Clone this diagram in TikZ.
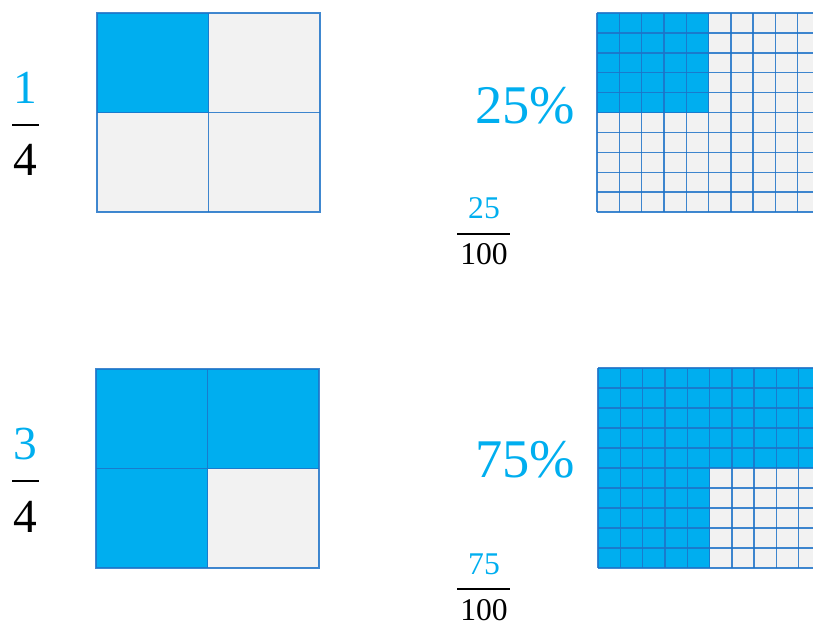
\documentclass[tikz,border=0pt]{standalone}
\usepackage{fontspec}
\setmainfont{Liberation Serif}
\definecolor{fillblue}{RGB}{0,174,239}
\definecolor{cellgray}{RGB}{242,242,242}
\definecolor{gridblue}{RGB}{30,115,200}
\tikzset{
  shaded/.style={fill=fillblue},
  blank/.style={fill=cellgray},
  gridline/.style={draw=gridblue, line width=0.8pt, draw opacity=0.85},
  num/.style={text=fillblue, inner sep=0pt},
  den/.style={text=black, inner sep=0pt},
  fracbar/.style={line width=1.2pt}
}
\begin{document}
\begin{tikzpicture}[x=0.02cm, y=-0.02cm,
		bigfont/.style={font=\fontsize{27}{30}\selectfont},
		pctfont/.style={font=\fontsize{31}{34}\selectfont},
		smallfont/.style={font=\fontsize{18}{20}\selectfont}]
		\useasboundingbox (0,0) rectangle (813,620);
		
		% 1/4 as fraction
		\node[num, bigfont] (oneq) at (25,88) {1};
		\node[den, bigfont] (fourq) at (25,160) {4};
		\draw[fracbar] (12,125) -- (39,125);
		
		% 1/4 model
		\begin{scope}[shift={(97,13)}]
			\fill[blank] (0,0) rectangle (223,199);
			\fill[shaded] (0,0) rectangle (111.5,99.5);
			\draw[gridline] (0,0) rectangle (223,199);
			\draw[gridline] (111.5,0) -- (111.5,199) (0,99.5) -- (223,99.5);
		\end{scope}
		
		% 25% and 25/100
		\node[num, pctfont] (pcta) at (525,106) {25\%};
		\node[num, smallfont] (numa) at (484,208) {25};
		\node[den, smallfont] (dena) at (484,254) {100};
		\draw[fracbar] (457,234) -- (510,234);
		
		% hundred grid, 25 cells
		\begin{scope}[shift={(597,13)}]
			\fill[blank] (0,0) rectangle (223,199);
			\fill[shaded] (0,0) rectangle (111.5,99.5);
			\foreach \k in {0,...,10} {
				\draw[gridline] ({22.3*\k},0) -- ({22.3*\k},199);
				\draw[gridline] (0,{19.9*\k}) -- (223,{19.9*\k});
			}
		\end{scope}
		
		% 3/4 as fraction
		\node[num, bigfont] (threeq) at (25,444) {3};
		\node[den, bigfont] (fourb) at (25,517) {4};
		\draw[fracbar] (12,481) -- (39,481);
		
		% 3/4 model
		\begin{scope}[shift={(96,369)}]
			\fill[shaded] (0,0) rectangle (223,199);
			\fill[blank] (111.5,99.5) rectangle (223,199);
			\draw[gridline] (0,0) rectangle (223,199);
			\draw[gridline] (111.5,0) -- (111.5,199) (0,99.5) -- (223,99.5);
		\end{scope}
		
		% 75% and 75/100
		\node[num, pctfont] (pctb) at (525,460) {75\%};
		\node[num, smallfont] (numb) at (484,564) {75};
		\node[den, smallfont] (denb) at (484,610) {100};
		\draw[fracbar] (457,589) -- (510,589);
		
		% hundred grid, 75 cells
		\begin{scope}[shift={(598,368)}]
			\fill[shaded] (0,0) rectangle (223,200);
			\fill[blank] (111.5,100) rectangle (223,200);
			\foreach \k in {0,...,10} {
				\draw[gridline] ({22.3*\k},0) -- ({22.3*\k},200);
				\draw[gridline] (0,{20*\k}) -- (223,{20*\k});
			}
		\end{scope}
	\end{tikzpicture}
\end{document}
